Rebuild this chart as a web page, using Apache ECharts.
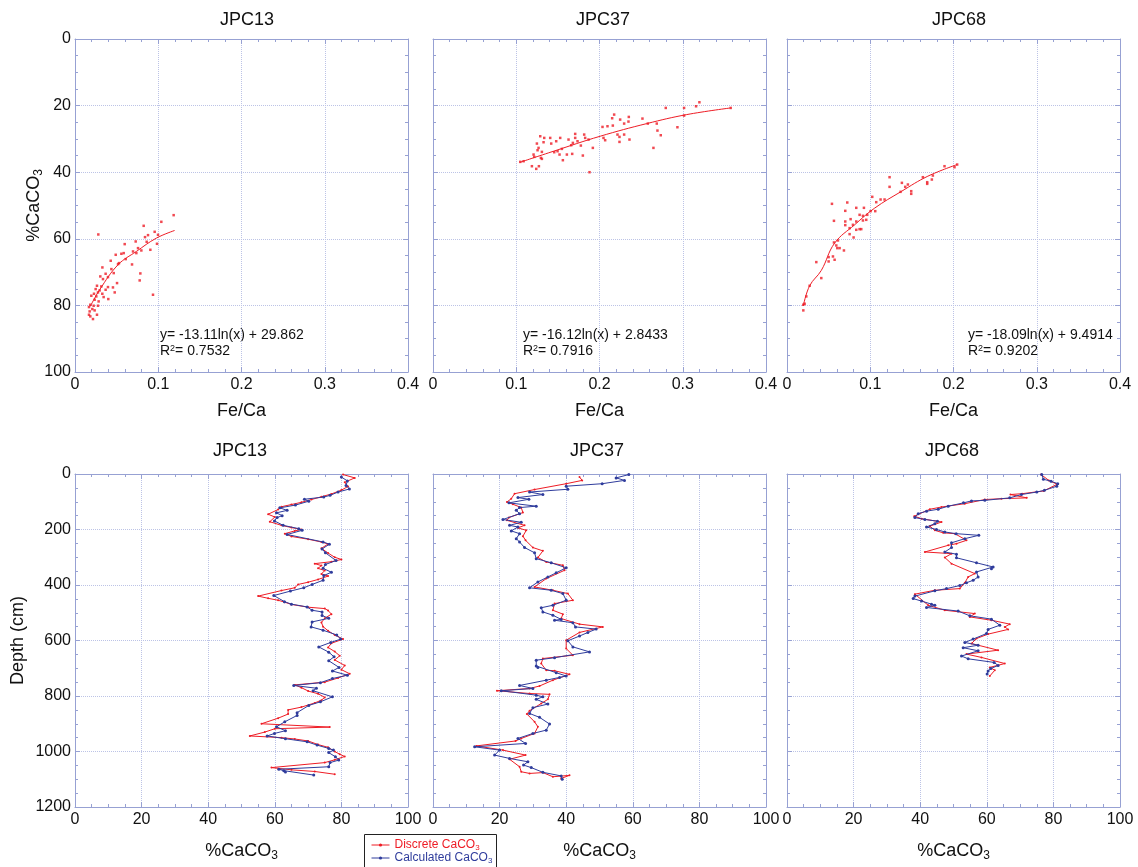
<!DOCTYPE html>
<html>
<head>
<meta charset="utf-8">
<script src="https://cdn.jsdelivr.net/npm/echarts@6/dist/echarts.min.js"></script>
<style>html,body{margin:0;padding:0;background:#fff}#c{width:1138px;height:867px}</style>
</head>
<body>
<div id="c"></div>
<script>
// ---------- DATA ----------
const coreNames = ['JPC13', 'JPC37', 'JPC68'];
const feCaTicks = [0, 0.1, 0.2, 0.3, 0.4];
const caco3Ticks = [0, 20, 40, 60, 80, 100];
const depthTicks = [0, 200, 400, 600, 800, 1000, 1200];

// [Fe/Ca, %CaCO3]
const jpc13Scatter = [[0.1185,52.9],[0.1037,54.9],[0.0825,56.1],[0.0957,57.9],[0.028,58.7],[0.0877,58.9],[0.0997,58.8],[0.0841,59.5],[0.0985,61.5],[0.0729,60.8],[0.0597,61.6],[0.0861,60.9],[0.0757,62.8],[0.0905,63.3],[0.0697,63.8],[0.0797,63.5],[0.0585,64.3],[0.0557,64.5],[0.0489,64.8],[0.0737,64.3],[0.0609,66.1],[0.0429,66.6],[0.0529,67.3],[0.0517,67.6],[0.0685,67.7],[0.0329,68.6],[0.0437,69.1],[0.0368,70.5],[0.0465,70.3],[0.0785,70.4],[0.0304,71.3],[0.0396,71.5],[0.0336,72.1],[0.0777,72.5],[0.0505,73.3],[0.0264,74.1],[0.0316,74.3],[0.0396,74.5],[0.0456,74.6],[0.0248,75.1],[0.0296,75.5],[0.0368,75.3],[0.0477,76.1],[0.0937,76.8],[0.0228,76.5],[0.0276,76.1],[0.0328,76.5],[0.0196,77.1],[0.0256,77.3],[0.0344,77.5],[0.04,78.1],[0.0236,78.3],[0.0284,78.8],[0.0184,79.8],[0.0224,80.1],[0.0276,80.1],[0.0168,80.5],[0.0208,81.1],[0.0236,81.5],[0.0176,81.8],[0.0264,82.8],[0.0168,82.8],[0.0184,83.3],[0.0216,84.1]];
const jpc37Scatter = [[0.32,19.0],[0.316,20.2],[0.2796,20.7],[0.3016,20.7],[0.3576,20.7],[0.3016,23.0],[0.2176,22.7],[0.2152,23.8],[0.2352,23.4],[0.2248,24.2],[0.2516,23.9],[0.2036,26.4],[0.2096,26.2],[0.216,26.0],[0.2296,25.4],[0.2348,24.8],[0.258,25.4],[0.2688,25.4],[0.2936,26.5],[0.2696,27.5],[0.2736,28.9],[0.2216,28.7],[0.224,29.4],[0.2296,28.7],[0.2048,29.7],[0.2068,30.4],[0.224,30.9],[0.236,30.2],[0.2648,32.7],[0.192,32.7],[0.1708,28.5],[0.1816,28.7],[0.1828,29.7],[0.1868,30.2],[0.1708,29.7],[0.1628,30.2],[0.168,31.2],[0.1736,30.7],[0.166,31.9],[0.1776,32.0],[0.1528,29.7],[0.148,30.7],[0.1408,29.7],[0.1336,29.7],[0.1288,29.2],[0.1328,31.0],[0.142,31.4],[0.1248,31.4],[0.1268,32.7],[0.1256,33.4],[0.1308,33.9],[0.1456,34.0],[0.1496,33.7],[0.1548,33.0],[0.1608,34.7],[0.1672,34.5],[0.152,34.7],[0.156,36.4],[0.1208,34.7],[0.1216,35.4],[0.1296,35.7],[0.1308,36.0],[0.18,35.0],[0.1048,36.9],[0.1088,36.7],[0.1188,38.2],[0.124,39.0],[0.1272,38.2],[0.188,40.0]];
const jpc68Scatter = [[0.2044,37.7],[0.1892,38.2],[0.2012,38.5],[0.1632,41.5],[0.1752,41.0],[0.174,42.2],[0.1684,43.0],[0.1684,43.5],[0.138,43.2],[0.1232,41.5],[0.1232,44.4],[0.142,44.4],[0.1452,43.7],[0.1364,45.9],[0.1492,45.7],[0.1492,46.5],[0.1024,47.4],[0.1124,48.2],[0.1172,48.2],[0.1072,49.0],[0.106,51.7],[0.1004,51.7],[0.0924,50.7],[0.054,49.5],[0.0724,49.1],[0.0832,50.7],[0.07,51.6],[0.0872,52.8],[0.0912,53.1],[0.0964,52.8],[0.0952,54.3],[0.0912,54.5],[0.0564,54.6],[0.07,54.8],[0.0764,54.1],[0.0832,54.8],[0.0792,55.8],[0.07,55.9],[0.0752,56.8],[0.0832,57.3],[0.0872,57.1],[0.0892,57.1],[0.0752,58.6],[0.08,59.6],[0.0564,61.1],[0.0612,60.5],[0.0592,62.0],[0.0604,62.8],[0.0632,62.8],[0.0684,63.5],[0.05,65.5],[0.0552,65.3],[0.05,66.8],[0.0572,66.3],[0.0352,67.0],[0.0412,71.8],[0.0272,74.1],[0.0232,77.3],[0.0212,79.5],[0.0196,79.8],[0.0196,81.5]];

// logarithmic fit curves
const jpc13Fit = [[0.0184,80.3],[0.0296,75.3],[0.0517,67.8],[0.0737,63.8],[0.0977,59.8],[0.1197,57.5]];
const jpc37Fit = [[0.1048,37.0],[0.1448,33.7],[0.2008,29.2],[0.2568,25.4],[0.3048,22.7],[0.3576,20.7]];
const jpc68Fit = [[0.0196,80.1],[0.0272,74.1],[0.0412,69.5],[0.0572,61.3],[0.0812,55.8],[0.1052,50.8],[0.1372,45.8],[0.1692,41.2],[0.2044,37.7]];
const fitEquations = ['y= -13.11ln(x) + 29.862', 'y= -16.12ln(x) + 2.8433', 'y= -18.09ln(x) + 9.4914'];
const fitR2 = ['0.7532', '0.7916', '0.9202'];

// [%CaCO3, depth cm]
const jpc13Discrete = [[80.5,2],[84,14],[81,30],[82,45],[80,58],[77,72],[74,82],[71,92],[68,102],[65,110],[62,118],[61,128],[58,145],[60,155],[58.5,172],[62,185],[65,193],[68,200],[66,205],[63,215],[65,225],[70,235],[74,245],[76,252],[74,268],[76,285],[78,300],[80,308],[77,316],[72,323],[74,330],[73,340],[75,348],[74,360],[76,368],[73,380],[70,390],[67,398],[66,410],[62,420],[55,440],[58,448],[61,455],[63,462],[65,470],[70,480],[75,485],[76,492],[77,505],[75,520],[74,535],[74.5,550],[76,565],[78,580],[80.5,595],[77,610],[76,625],[78,640],[79.5,655],[78,670],[81,690],[80,705],[82.5,720],[79,735],[75,750],[66,760],[68,770],[70,782],[73,792],[75,805],[74,815],[72,825],[68,840],[64,850],[64,865],[61,880],[56,900],[76.5,912],[60,918],[57,930],[52.5,944],[62,950],[66,955],[70,962],[73,975],[76,985],[78,1000],[79.5,1010],[81,1018],[78,1030],[75,1040],[59,1058],[65,1066],[72,1072],[78,1082]];
const jpc13Calculated = [[80,11],[81.8,25],[81.4,41],[82.4,54],[79,65],[76.6,77],[74.7,83],[68.9,91],[70.2,98],[66.2,112],[61.5,122],[63.7,131],[60.5,140],[62.2,150],[60.7,157],[59.9,169],[62.5,185],[67.2,197],[68.2,203],[63.7,218],[74.5,245],[76.4,253],[74.2,270],[75.2,284],[78.4,312],[75.2,326],[74.5,340],[77,354],[74.7,366],[74.5,383],[71.2,398],[68.7,410],[64.7,422],[59.7,438],[62.9,460],[65,469],[69.7,479],[71.2,491],[74.2,497],[74.2,510],[76.2,520],[71.2,533],[70.9,551],[74.5,563],[78.6,580],[79.8,595],[76.8,607],[73.2,623],[76.2,642],[77.8,659],[76.2,673],[79.3,697],[77.3,710],[81.8,725],[77.3,737],[73.7,752],[65.7,762],[72.5,772],[71.5,781],[77.3,803],[73.7,821],[70.2,834],[66.7,860],[66.7,870],[63,893],[60.5,911],[63.2,925],[59.9,935],[57.7,944],[63.2,954],[69.7,965],[72.7,977],[76.2,989],[77.6,995],[76.2,1004],[78.2,1019],[79.2,1031],[76.6,1040],[76.2,1055],[61.2,1064],[62.7,1069],[63.2,1074],[71.7,1085]];
const jpc37Discrete = [[44,11],[44.8,23],[40,35],[30.5,56],[24.5,71],[23.5,89],[22.2,101],[24,109],[26.5,121],[27,139],[22.8,157],[22.2,167],[27.5,185],[25.5,194],[28,203],[27,224],[27.8,239],[30,265],[33,277],[31.5,301],[34,317],[39,329],[39.5,347],[34,377],[30.5,407],[36,419],[40.5,431],[42,455],[36.5,467],[36,491],[39,505],[38.5,521],[44,541],[51,551],[44,571],[40,599],[40,629],[42,653],[33,665],[32.5,683],[34,707],[36.5,709],[41,722],[36,743],[32,764],[29,773],[19.2,781],[29,791],[35,794],[34.5,812],[32.5,827],[29,853],[28.2,865],[30.5,893],[31.5,911],[30.5,935],[26.5,953],[24.8,962],[13,980],[21,995],[27.8,1013],[23,1028],[26,1055],[26.5,1073],[29,1079],[33,1076],[36,1091],[41,1086],[38.5,1097]];
const jpc37Calculated = [[58.8,2],[55,14],[57.5,23],[50.8,35],[40,44],[40.5,55],[29,65],[33,74],[25.5,85],[28.8,91],[22.8,104],[31,116],[26,121],[25,131],[26,143],[21,164],[26.5,174],[23,185],[25.5,191],[23.5,205],[26,215],[25,233],[26,245],[27.5,265],[30.5,284],[31,305],[35.5,320],[40,338],[37,356],[34.5,371],[31.5,389],[29,410],[35.5,419],[39,431],[40,455],[36,473],[32.5,482],[33,497],[36,509],[38.5,524],[36.5,527],[42,536],[42.8,551],[49,559],[46.5,571],[44,584],[40.5,601],[42,623],[47,641],[36.5,662],[31,671],[31,692],[31.5,697],[37,716],[40,728],[38,733],[34,743],[26,762],[30,773],[20.5,781],[31,797],[33,803],[31,812],[34.5,829],[30,842],[29,863],[32,877],[35,901],[34,923],[30,935],[25.5,953],[27.8,971],[12.5,983],[20,995],[18.5,1013],[23,1025],[28.5,1037],[27.2,1049],[29.5,1058],[33,1075],[38.5,1088],[38.8,1100]];
const jpc68Discrete = [[76.3,2],[78.6,23],[81.1,37],[77.1,61],[70.6,71],[67.1,74],[72,86],[64.4,89],[59.4,92],[53.4,107],[46.4,119],[42.9,127],[38.2,152],[40.4,161],[46.4,173],[42.9,188],[44.4,203],[46.9,212],[50.4,215],[53.9,239],[50.9,251],[48.4,257],[41.4,281],[49.4,287],[47.4,301],[49.4,323],[56.4,359],[54.4,371],[53.4,392],[51.9,413],[44.4,419],[38.4,433],[42.4,473],[47.4,491],[56.4,503],[54.9,515],[61.4,527],[66.9,541],[65.4,551],[66.4,560],[60.4,577],[56.9,593],[55.4,611],[63.4,635],[53.9,649],[58.4,661],[65.4,683],[60.9,697],[62.4,707],[60.9,728]];
const jpc68Calculated = [[76.5,2],[77,19],[79.3,26],[81.3,35],[81,44],[77.3,59],[75,65],[70.4,74],[66.9,86],[59.4,95],[55.4,97],[53,104],[48.4,116],[45.4,127],[41.9,134],[39.4,143],[38.4,157],[41.4,164],[45.2,170],[44.4,179],[41.9,191],[44.9,200],[47.4,209],[50.8,215],[57.6,221],[53.4,233],[49.4,248],[49.4,265],[47.4,281],[50.9,289],[50.9,302],[56.9,320],[61.9,335],[61.4,341],[56.9,353],[57.4,371],[55.9,383],[53.9,392],[51.9,402],[47.9,413],[44.4,421],[38.4,440],[37.9,449],[40.4,458],[43.4,469],[44.4,473],[41.9,481],[51.4,494],[54.9,511],[61.4,523],[63.9,545],[60.4,560],[59.9,575],[55.9,595],[53.4,607],[57.4,617],[52.9,626],[57.4,637],[52.4,656],[54.4,666],[62.2,679],[63.4,690],[61.2,701],[60.4,710],[60.1,721]];

// ---------- STYLE ----------
const FONT = '"Liberation Sans", Arial, Helvetica, sans-serif';
const AX = '#97a1d3';
const GRIDC = '#bcc3e6';
const RED = '#ee1c25';
const BLUE = '#2f3c9c';
const TXT = '#111';
const colLefts = [75, 433, 787];
const rowTops = [39, 474];
const SIZE = 333;

const grids = [], xAxes = [], yAxes = [], series = [], graphics = [];
const subRich = { s: { fontSize: 12, fontFamily: FONT, color: TXT, verticalAlign: 'bottom', lineHeight: 22 }, m: { fontSize: 18, fontFamily: FONT, color: TXT, lineHeight: 22 } };

function axisCommon(min, max, interval, minorSplit) {
  return {
    type: 'value', min: min, max: max, interval: interval,
    axisLine: { show: true, onZero: false, lineStyle: { color: AX, width: 1 } },
    axisTick: { show: true, inside: true, length: 5, lineStyle: { color: AX } },
    minorTick: { show: true, splitNumber: minorSplit, length: 3, lineStyle: { color: AX } },
    splitLine: { show: false },
    axisLabel: { show: false }
  };
}
function plainNum(v) { return String(Math.round(v * 1000) / 1000); }

for (let r = 0; r < 2; r++) {
  for (let c = 0; c < 3; c++) {
    const gi = grids.length;
    grids.push({ left: colLefts[c], top: rowTops[r], width: SIZE, height: SIZE, containLabel: false });
    const xMax = r === 0 ? feCaTicks[feCaTicks.length - 1] : caco3Ticks[caco3Ticks.length - 1];
    const xInt = r === 0 ? feCaTicks[1] : caco3Ticks[1];
    const yMax = r === 0 ? caco3Ticks[caco3Ticks.length - 1] : depthTicks[depthTicks.length - 1];
    const yInt = r === 0 ? caco3Ticks[1] : depthTicks[1];
    const xMinor = r === 0 ? 5 : 4;
    const xb = axisCommon(0, xMax, xInt, xMinor);
    Object.assign(xb, {
      gridIndex: gi, position: 'bottom',
      splitLine: { show: true, lineStyle: { color: GRIDC, type: 'dotted', width: 1 } },
      axisLabel: { show: true, color: TXT, fontSize: 16, fontFamily: FONT, margin: 5, formatter: plainNum },
      name: r === 0 ? 'Fe/Ca' : '{m|%CaCO}{s|3}', nameLocation: 'middle', nameGap: r === 0 ? 30 : 33,
      nameMoveOverlap: false,
      nameTextStyle: { color: TXT, fontSize: 18, fontFamily: FONT, rich: subRich }
    });
    xAxes.push(xb);
    const xt = axisCommon(0, xMax, xInt, xMinor);
    Object.assign(xt, { gridIndex: gi, position: 'top' });
    xAxes.push(xt);
    const yl = axisCommon(0, yMax, yInt, 4);
    Object.assign(yl, {
      gridIndex: gi, position: 'left', inverse: true,
      splitLine: { show: true, lineStyle: { color: GRIDC, type: 'dotted', width: 1 } },
      axisLabel: { show: c === 0, color: TXT, fontSize: 16, fontFamily: FONT, margin: 4, formatter: plainNum }
    });
    if (c === 0) {
      Object.assign(yl, {
        name: r === 0 ? '{m|%CaCO}{s|3}' : 'Depth (cm)', nameLocation: 'middle', nameRotate: 90,
        nameGap: r === 0 ? 30 : 48, nameMoveOverlap: false,
        nameTextStyle: { color: TXT, fontSize: 18, fontFamily: FONT, rich: subRich }
      });
    }
    yAxes.push(yl);
    const yr = axisCommon(0, yMax, yInt, 4);
    Object.assign(yr, { gridIndex: gi, position: 'right', inverse: true });
    yAxes.push(yr);
  }
}

const scatters = [jpc13Scatter, jpc37Scatter, jpc68Scatter];
const fits = [jpc13Fit, jpc37Fit, jpc68Fit];
const discretes = [jpc13Discrete, jpc37Discrete, jpc68Discrete];
const calcs = [jpc13Calculated, jpc37Calculated, jpc68Calculated];

for (let c = 0; c < 3; c++) {
  const ti = c * 2;
  series.push({
    name: coreNames[c] + ' points', type: 'scatter', xAxisIndex: ti, yAxisIndex: ti,
    data: scatters[c], symbol: 'rect', symbolSize: 2.5, itemStyle: { color: RED }, z: 3
  });
  series.push({
    name: coreNames[c] + ' fit', type: 'line', xAxisIndex: ti, yAxisIndex: ti,
    data: fits[c], smooth: 0.4, showSymbol: false, lineStyle: { color: RED, width: 1 }, z: 2
  });
  const bi = (3 + c) * 2;
  series.push({
    name: 'Discrete CaCO3', type: 'line', xAxisIndex: bi, yAxisIndex: bi,
    data: discretes[c], symbol: 'circle', symbolSize: 2, showSymbol: true,
    itemStyle: { color: RED }, lineStyle: { color: RED, width: 1 }, z: 2
  });
  series.push({
    name: 'Calculated CaCO3', type: 'line', xAxisIndex: bi, yAxisIndex: bi,
    data: calcs[c], symbol: 'circle', symbolSize: 3, showSymbol: true,
    itemStyle: { color: BLUE }, lineStyle: { color: BLUE, width: 1 }, z: 3
  });
}

const titleX = [[247, 603, 959], [240, 597, 952]];
const titleY = [20, 451];
for (let r = 0; r < 2; r++) for (let c = 0; c < 3; c++) {
  graphics.push({ type: 'text', x: titleX[r][c], y: titleY[r], style: {
    text: coreNames[c], fill: TXT, fontSize: 18, fontFamily: FONT,
    align: 'center', verticalAlign: 'middle', textAlign: 'center', textVerticalAlign: 'middle' } });
}
const eqX = [160, 523, 968];
const eqRich = { n: { fontSize: 14, fontFamily: FONT, fill: TXT, color: TXT }, sup: { fontSize: 9, fontFamily: FONT, fill: TXT, color: TXT, verticalAlign: 'top' } };
for (let c = 0; c < 3; c++) {
  graphics.push({ type: 'text', x: eqX[c], y: 335, style: {
    text: fitEquations[c], fill: TXT, fontSize: 14, fontFamily: FONT,
    align: 'left', verticalAlign: 'middle', textAlign: 'left', textVerticalAlign: 'middle' } });
  graphics.push({ type: 'text', x: eqX[c], y: 351, style: {
    text: '{n|R}{sup|2}{n|= ' + fitR2[c] + '}', rich: eqRich, fill: TXT, fontSize: 14, fontFamily: FONT,
    align: 'left', verticalAlign: 'middle', textAlign: 'left', textVerticalAlign: 'middle' } });
}
// legend frame
graphics.push({ type: 'rect', shape: { x: 364.5, y: 834.5, width: 132, height: 40 },
  style: { fill: '#fff', stroke: '#222', lineWidth: 1 }, z: 50 });

const legendRich = {
  r: { color: RED, fontSize: 12, fontFamily: FONT, lineHeight: 13 },
  rs: { color: RED, fontSize: 8, fontFamily: FONT, verticalAlign: 'bottom', lineHeight: 13 },
  b: { color: BLUE, fontSize: 12, fontFamily: FONT, lineHeight: 13 },
  bs: { color: BLUE, fontSize: 8, fontFamily: FONT, verticalAlign: 'bottom', lineHeight: 13 }
};
function legendFor(name, top) {
  return {
    data: [name], left: 371, top: top, orient: 'vertical',
    itemWidth: 18, itemHeight: 4, itemGap: 4, padding: 0, z: 60,
    lineStyle: { width: 1 },
    formatter: function (n) {
      return n === 'Discrete CaCO3' ? '{r|Discrete CaCO}{rs|3}' : '{b|Calculated CaCO}{bs|3}';
    },
    textStyle: { fontFamily: FONT, fontSize: 12, rich: legendRich }
  };
}

const chart = echarts.init(document.getElementById('c'), null, { renderer: 'canvas' });
chart.setOption({
  animation: false,
  backgroundColor: '#fff',
  grid: grids,
  xAxis: xAxes,
  yAxis: yAxes,
  series: series,
  graphic: graphics,
  legend: [legendFor('Discrete CaCO3', 839), legendFor('Calculated CaCO3', 852)]
});
</script>
</body>
</html>
